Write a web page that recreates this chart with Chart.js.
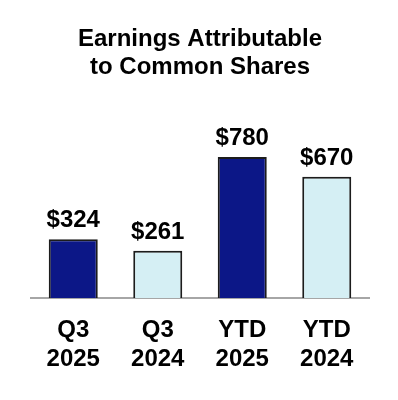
<!DOCTYPE html>
<html>
<head>
<meta charset="utf-8">
<script src="https://cdn.jsdelivr.net/npm/chart.js@4.4.1/dist/chart.umd.min.js"></script>
<style>
html,body{margin:0;padding:0;background:#fff;}
#wrap{width:398px;height:400px;}
</style>
</head>
<body>
<div id="wrap"><canvas id="c" width="398" height="400"></canvas></div>
<script>
const categories = [["Q3","2025"],["Q3","2024"],["YTD","2025"],["YTD","2024"]];
const values = [324, 261, 780, 670];
const valueLabels = ["$324","$261","$780","$670"];
const fillColors = ["#0c1787","#d5eff4","#0c1787","#d5eff4"];
const titleLines = ["Earnings Attributable","to Common Shares"];

const FONT = "'Liberation Sans', Arial, Helvetica, sans-serif";

const valueLabelPlugin = {
  id: 'valueLabels',
  afterDatasetsDraw(chart) {
    const ctx = chart.ctx;
    const meta = chart.getDatasetMeta(0);
    ctx.save();
    ctx.font = "bold 24px " + FONT;
    ctx.fillStyle = "#000";
    ctx.textAlign = "center";
    ctx.textBaseline = "alphabetic";
    meta.data.forEach((bar, i) => {
      ctx.fillText(valueLabels[i], bar.x, bar.y - 12);
    });
    ctx.restore();
  }
};

new Chart(document.getElementById('c'), {
  type: 'bar',
  data: {
    labels: categories,
    datasets: [{
      data: values,
      backgroundColor: fillColors,
      borderColor: "#1c1c1c",
      borderWidth: 2,
      borderSkipped: 'bottom',
      categoryPercentage: 1.0,
      barPercentage: 0.58
    }]
  },
  options: {
    responsive: false,
    animation: false,
    events: [],
    layout: { padding: { left: 31, right: 29, top: 0, bottom: 8 } },
    plugins: {
      legend: { display: false },
      tooltip: { enabled: false },
      title: {
        display: true,
        text: titleLines,
        color: "#000",
        font: { family: FONT, size: 24, weight: 'bold', lineHeight: 1.19 },
        padding: { top: 25, bottom: 35 }
      }
    },
    scales: {
      x: {
        grid: { display: false, drawTicks: false },
        border: { display: true, color: "#a6a6a6", width: 2 },
        ticks: {
          color: "#000",
          padding: 18,
          font: { family: FONT, size: 24, weight: 'bold', lineHeight: 1.21 }
        }
      },
      y: {
        display: false,
        min: 0,
        max: 1000
      }
    }
  },
  plugins: [valueLabelPlugin]
});
</script>
</body>
</html>
